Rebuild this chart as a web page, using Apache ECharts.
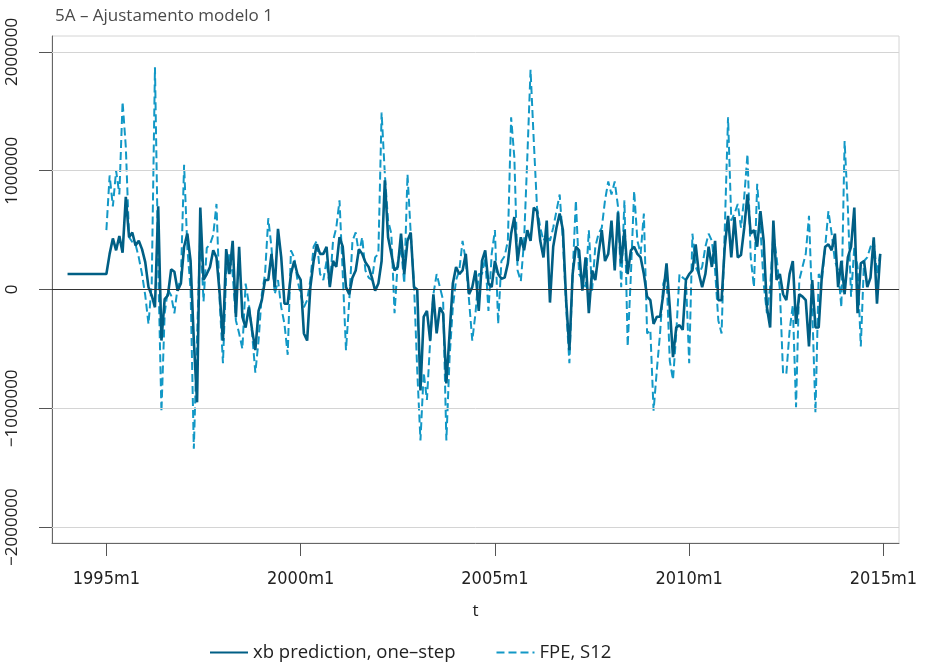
<!DOCTYPE html>
<html>
<head>
<meta charset="utf-8">
<script src="https://cdn.jsdelivr.net/npm/echarts@6/dist/echarts.min.js"></script>
<style>
html,body{margin:0;padding:0;background:#fff;}
#chart{width:925px;height:667px;}
</style>
</head>
<body>
<div id="chart"></div>
<script>
// ---- data ----
const titleText = '5A \u2013 Ajustamento modelo 1';
const startYear = 1994; // first observation: 1994m1
const seriesNames = ['xb prediction, one\u2013step', 'FPE, S12'];
const xTickMonths = [12, 72, 132, 192, 252];
const yTicks = [-2000000, -1000000, 0, 1000000, 2000000];

const xbPrediction = [
  130000,130000,130000,130000,130000,130000,130000,130000,130000,130000,130000,130000,130000,
  300000,430000,330000,450000,310000,780000,440000,480000,370000,410000,340000,230000,20000,-50000,-150000,700000,-430000,-80000,-50000,170000,150000,-10000,50000,360000,470000,240000,-430000,-950000,690000,
  80000,130000,190000,330000,270000,-40000,-430000,340000,130000,410000,-230000,360000,-230000,-320000,-150000,-340000,-510000,-180000,-90000,80000,80000,300000,20000,510000,270000,-120000,-120000,130000,240000,130000,80000,-370000,-430000,20000,240000,380000,300000,300000,360000,20000,240000,190000,440000,
  360000,20000,-40000,100000,160000,340000,300000,230000,190000,100000,-10000,50000,240000,920000,440000,300000,160000,190000,470000,130000,410000,480000,20000,0,-850000,-230000,-180000,-430000,-40000,-370000,-150000,-200000,-790000,-370000,50000,190000,130000,160000,300000,-40000,20000,160000,-180000,
  240000,330000,50000,20000,240000,130000,90000,100000,220000,470000,610000,240000,440000,330000,500000,410000,690000,660000,410000,270000,580000,-110000,360000,520000,640000,500000,-90000,-510000,130000,360000,330000,-10000,270000,-200000,160000,80000,300000,500000,240000,300000,580000,160000,650000,
  220000,500000,130000,330000,360000,300000,270000,130000,-60000,-90000,-290000,-230000,-230000,-40000,220000,-150000,-570000,-320000,-300000,-340000,80000,130000,160000,380000,130000,20000,130000,360000,190000,410000,-90000,-90000,360000,620000,270000,610000,270000,290000,520000,800000,470000,500000,360000,
  660000,410000,-150000,-320000,580000,80000,130000,-40000,-90000,130000,240000,-290000,-40000,-60000,-90000,-480000,80000,-320000,-320000,130000,360000,380000,330000,470000,20000,240000,-40000,270000,360000,690000,-200000,220000,240000,20000,100000,440000,-120000,300000
];

const fpeS12 = [
  null,null,null,null,null,null,null,null,null,null,null,null,
  500000,960000,700000,1000000,800000,1580000,1200000,440000,400000,380000,270000,130000,-50000,-290000,50000,1870000,200000,-1030000,-200000,0,-50000,-200000,20000,80000,1050000,350000,0,-1340000,-400000,480000,
  -100000,350000,380000,460000,720000,-100000,-620000,130000,300000,130000,-260000,-370000,-500000,50000,-120000,-370000,-700000,-430000,-40000,130000,600000,350000,-40000,80000,-150000,-290000,-550000,330000,270000,80000,-40000,-150000,-90000,80000,360000,410000,130000,80000,240000,20000,410000,520000,750000,
  130000,-510000,-100000,410000,480000,300000,440000,160000,100000,80000,270000,300000,1490000,970000,580000,470000,-200000,240000,350000,50000,970000,470000,50000,-680000,-1270000,-700000,-930000,-430000,-40000,130000,20000,-90000,-1270000,-570000,-150000,80000,160000,410000,240000,-90000,-430000,-200000,130000,
  130000,270000,-180000,300000,500000,-290000,240000,280000,410000,1450000,1110000,160000,70000,410000,1110000,1850000,1250000,690000,520000,410000,470000,410000,520000,660000,800000,410000,-150000,-620000,130000,750000,130000,80000,20000,500000,-10000,360000,470000,520000,750000,910000,800000,910000,700000,
  20000,750000,-480000,130000,830000,410000,300000,640000,-370000,-340000,-1020000,-680000,-370000,50000,130000,-600000,-760000,-370000,130000,100000,80000,-620000,470000,190000,130000,190000,360000,470000,410000,160000,-260000,-370000,520000,1450000,580000,640000,720000,520000,780000,1140000,270000,20000,890000,
  520000,50000,-200000,20000,470000,270000,0,-710000,-710000,-350000,-130000,-990000,80000,190000,300000,620000,-150000,-1040000,130000,80000,360000,660000,470000,240000,160000,-150000,1250000,690000,-60000,360000,190000,-480000,240000,270000,360000,410000,130000,300000
];

// ---- chart ----
const labelFont = '"Open Sans", "Noto Sans", sans-serif';
const xLabelFont = '"DejaVu Sans Condensed", "Open Sans", sans-serif';
const monthLabel = v => (startYear + Math.floor(v / 12)) + 'm' + (Math.round(v) % 12 + 1);
const toPairs = arr => arr.map((v, i) => [i, v]);

const chart = echarts.init(document.getElementById('chart'), null, {renderer: 'canvas'});
chart.setOption({
  animation: false,
  backgroundColor: '#ffffff',
  title: {
    text: titleText, left: 50, top: 3,
    textStyle: {fontFamily: labelFont, fontSize: 17, fontWeight: 'normal', color: '#4a4a4a'}
  },
  legend: {
    left: 204, top: 638, itemWidth: 38, itemHeight: 14, itemGap: 40,
    itemStyle: {opacity: 0},
    textStyle: {fontFamily: labelFont, fontSize: 18.5, color: '#222'},
    data: seriesNames
  },
  grid: {left: 52, right: 26, top: 36, bottom: 124, show: true, borderColor: '#d4d4d4', borderWidth: 1},
  xAxis: {
    type: 'value', min: -4.8, max: 256.8,
    name: 't', nameLocation: 'middle', nameGap: 60,
    nameTextStyle: {fontFamily: labelFont, fontSize: 17, color: '#222'},
    axisLine: {show: true, onZero: false, lineStyle: {color: '#666', width: 1}},
    axisTick: {show: true, customValues: xTickMonths, length: 13, lineStyle: {color: '#555'}},
    axisLabel: {customValues: xTickMonths, formatter: monthLabel, margin: 27,
      fontFamily: xLabelFont, fontSize: 18, color: '#222'},
    splitLine: {show: false}
  },
  yAxis: {
    type: 'value', min: -2134000, max: 2134000,
    axisLine: {show: true, onZero: false, lineStyle: {color: '#666', width: 1}},
    axisTick: {show: true, customValues: yTicks, length: 13, lineStyle: {color: '#555'}},
    axisLabel: {customValues: yTicks, rotate: 90, margin: 31,
      formatter: v => (v < 0 ? '\u2212' + String(-v) : String(v)),
      fontFamily: labelFont, fontSize: 17, color: '#222'},
    splitLine: {show: false}
  },
  series: [
    {
      type: 'line', name: '__grid', data: [], z: 1, silent: true,
      markLine: {
        silent: true, symbol: 'none', label: {show: false}, animation: false,
        data: yTicks.map(v => ({yAxis: v, lineStyle: v === 0
          ? {color: '#333', width: 1.2, type: 'solid'}
          : {color: '#d4d4d4', width: 1, type: 'solid'}}))
      }
    },
    {
      type: 'line', name: seriesNames[1], data: toPairs(fpeS12), z: 2,
      showSymbol: false, symbol: 'none', connectNulls: false,
      lineStyle: {color: '#1298c6', width: 2, type: [8, 4]},
      itemStyle: {color: '#1298c6'}
    },
    {
      type: 'line', name: seriesNames[0], data: toPairs(xbPrediction), z: 3,
      showSymbol: false, symbol: 'none',
      lineStyle: {color: '#005f85', width: 2.6},
      itemStyle: {color: '#005f85'}
    }
  ]
});
</script>
</body>
</html>
